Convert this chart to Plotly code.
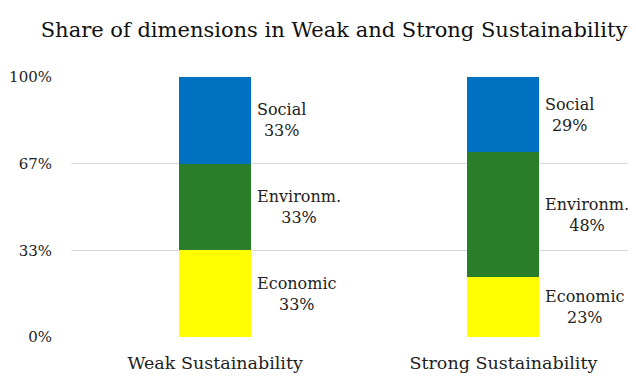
import plotly.graph_objects as go

categories = ["Weak Sustainability", "Strong Sustainability"]
economic = [0.333, 0.23]
environmental = [0.333, 0.48]
social = [0.334, 0.29]
series_names = ["Economic", "Environm.", "Social"]
series_colors = ["#FFFF00", "#2A7E2A", "#0070C0"]
tick_vals = [0, 1/3, 2/3, 1]
tick_text = ["0%", "33%", "67%", "100%"]

FONT = "DejaVu Serif"
bar_width = 0.25
series = [economic, environmental, social]

# the page adds an 8px body margin, so the figure is sized to fit inside it
W, H = 628, 368

fig = go.Figure()
for name, vals, col in zip(series_names, series, series_colors):
    fig.add_trace(go.Bar(
        x=list(range(len(categories))), y=vals, name=name,
        marker=dict(color=col, line=dict(width=0)),
        width=bar_width, hoverinfo="skip",
    ))

annotations = []
for i in range(len(categories)):
    base = 0.0
    for name, vals in zip(series_names, series):
        v = vals[i]
        annotations.append(dict(
            x=i + bar_width / 2, y=base + v / 2, xref="x", yref="y",
            text=f"{name}<br>{round(v * 100)}%", showarrow=False,
            xanchor="left", yanchor="middle", align="center", xshift=4,
            font=dict(family=FONT, size=16, color="#222222"),
        ))
        base += v

fig.update_layout(
    barmode="stack",
    width=W, height=H,
    margin=dict(l=63, r=0, t=69, b=39),
    paper_bgcolor="white", plot_bgcolor="white",
    showlegend=False,
    title=dict(text="Share of dimensions in Weak and Strong Sustainability",
               x=326 / W, xref="container", xanchor="center",
               y=1 - 22 / H, yref="container", yanchor="middle",
               font=dict(family=FONT, size=21, color="#111111")),
    annotations=annotations,
)
fig.update_xaxes(
    range=[-0.5, 1.46], tickvals=list(range(len(categories))), ticktext=categories,
    showgrid=False, zeroline=False, showline=False, ticks="",
    tickfont=dict(family=FONT, size=17.5, color="#222222"),
    ticklabelstandoff=13,
)
fig.update_yaxes(
    range=[0, 1], tickvals=tick_vals, ticktext=tick_text,
    showgrid=True, gridcolor="#D9D9D9", gridwidth=1,
    zeroline=False, showline=False, ticks="",
    tickfont=dict(family=FONT, size=15, color="#222222"),
    ticklabelstandoff=18,
)
fig.write_html("out.html")
